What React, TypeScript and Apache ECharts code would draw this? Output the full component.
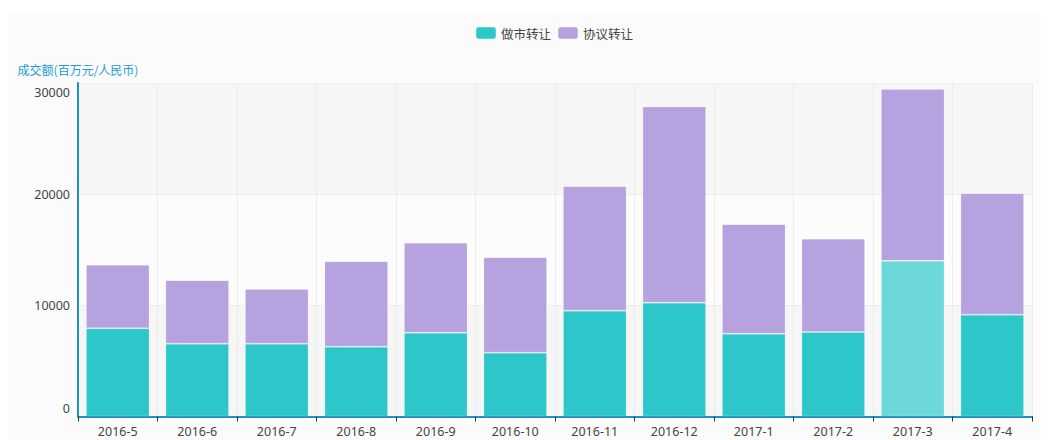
import React, { useEffect, useRef } from "react";
import * as echarts from "echarts";

const categories = ["2016-5", "2016-6", "2016-7", "2016-8", "2016-9", "2016-10", "2016-11", "2016-12", "2017-1", "2017-2", "2017-3", "2017-4"];
const marketMaking = [7940, 6550, 6550, 6280, 7540, 5740, 9520, 10240, 7450, 7610, 14000, 9160];
const agreement = [5700, 5710, 4930, 7690, 8080, 8590, 11200, 17650, 9850, 8370, 15450, 10930];
const highlightedIndex = 10;
const yTicks = { min: 0, max: 30000, interval: 10000 };

const FONT = "'Noto Sans CJK SC', 'Noto Sans', sans-serif";
const NUM_FONT = "'Noto Sans', 'Noto Sans CJK SC', sans-serif";

export default function App() {
  const ref = useRef<HTMLDivElement>(null);
  useEffect(() => {
    if (!ref.current) return;
    const chart = echarts.init(ref.current, null, { renderer: "svg" });
    chart.setOption({
      animation: false,
      backgroundColor: "#fbfbfb",
      textStyle: { fontFamily: FONT },
      legend: {
        left: 462,
        top: 7,
        itemWidth: 20,
        itemHeight: 12,
        itemGap: 6,
        textStyle: { color: "#444", fontSize: 12.5, fontFamily: FONT },
        data: ["做市转让", "协议转让"],
      },
      grid: { left: 70, right: 9, top: 69, bottom: 23.5 },
      xAxis: {
        type: "category",
        data: categories,
        axisLine: { lineStyle: { color: "#1e90c8", width: 2 } },
        axisTick: { show: true, lineStyle: { color: "#333" }, length: 5 },
        axisLabel: { color: "#444", fontSize: 12.5, fontFamily: NUM_FONT, margin: 9 },
        splitLine: { show: true, lineStyle: { color: "#ececec" } },
      },
      yAxis: {
        type: "value",
        min: yTicks.min,
        max: yTicks.max,
        interval: yTicks.interval,
        name: "成交额(百万元/人民币)",
        nameGap: 8,
        nameTextStyle: { color: "#1e9bd7", fontSize: 12, fontFamily: FONT },
        axisLine: { show: true, lineStyle: { color: "#1e90c8", width: 2 } },
        axisTick: { show: false },
        axisLabel: {
          color: "#444",
          fontSize: 12.5,
          fontFamily: NUM_FONT,
          margin: 8,
          formatter: (v: number) => (v === yTicks.min ? `{b|${v}}` : v === yTicks.max ? `{t|${v}}` : `${v}`),
          rich: {
            b: { padding: [0, 0, 16, 0], color: "#444", fontSize: 12.5, fontFamily: NUM_FONT },
            t: { padding: [18, 0, 0, 0], color: "#444", fontSize: 12.5, fontFamily: NUM_FONT },
          },
        },
        splitLine: { show: true, lineStyle: { color: "#eeeeee" } },
        splitArea: { show: true, areaStyle: { color: ["#f6f6f6", "#fcfcfc"] } },
      },
      series: [
        {
          name: "做市转让",
          type: "bar",
          stack: "total",
          barWidth: "80%",
          itemStyle: { color: "#2ec7c9", borderColor: "rgba(255,255,255,0.2)", borderWidth: 1 },
          data: marketMaking.map((v, i) =>
            i === highlightedIndex ? { value: v, itemStyle: { color: "#6cd8d9" } } : v
          ),
        },
        {
          name: "协议转让",
          type: "bar",
          stack: "total",
          barWidth: "80%",
          itemStyle: { color: "#b6a2de", borderColor: "rgba(255,255,255,0.2)", borderWidth: 1 },
          data: agreement,
        },
      ],
    });
    return () => chart.dispose();
  }, []);
  return (
    <div style={{ paddingTop: 6 }}>
      <div ref={ref} style={{ width: 1033, height: 426 }} />
    </div>
  );
}
